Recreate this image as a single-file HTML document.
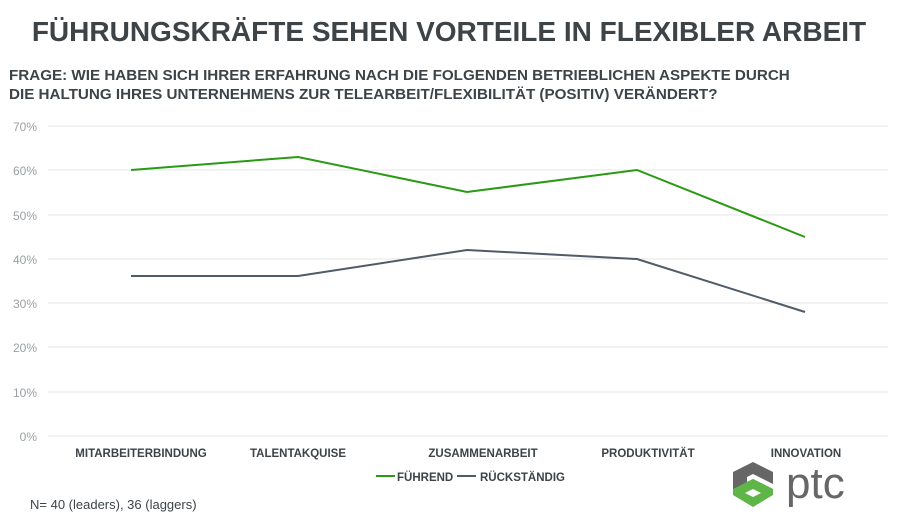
<!DOCTYPE html><html><head><meta charset="utf-8"><style>body{margin:0;background:#fff;width:900px;height:522px;overflow:hidden;font-family:"Liberation Sans",sans-serif}</style></head><body>
<svg width="900" height="522" xmlns="http://www.w3.org/2000/svg" font-family="Liberation Sans, sans-serif">
<text x="449" y="41" text-anchor="middle" font-size="28" font-weight="bold" fill="#3d4347">FÜHRUNGSKRÄFTE SEHEN VORTEILE IN FLEXIBLER ARBEIT</text>
<text x="9" y="80" font-size="15.2" font-weight="bold" fill="#3d4347">FRAGE: WIE HABEN SICH IHRER ERFAHRUNG NACH DIE FOLGENDEN BETRIEBLICHEN ASPEKTE DURCH</text>
<text x="9" y="99" font-size="15.2" font-weight="bold" fill="#3d4347">DIE HALTUNG IHRES UNTERNEHMENS ZUR TELEARBEIT/FLEXIBILITÄT (POSITIV) VERÄNDERT?</text>
<g stroke="#e6e6e6" stroke-width="1">
<line x1="48" x2="888" y1="126" y2="126"/><line x1="48" x2="888" y1="170" y2="170"/><line x1="48" x2="888" y1="215" y2="215"/><line x1="48" x2="888" y1="259" y2="259"/><line x1="48" x2="888" y1="303" y2="303"/><line x1="48" x2="888" y1="347" y2="347"/><line x1="48" x2="888" y1="392" y2="392"/><line x1="48" x2="888" y1="436" y2="436"/></g>
<g font-size="12" fill="#9a9fa3" text-anchor="end">
<text x="37" y="131">70%</text><text x="37" y="175">60%</text><text x="37" y="220">50%</text><text x="37" y="264">40%</text><text x="37" y="308">30%</text><text x="37" y="352">20%</text><text x="37" y="397">10%</text><text x="37" y="441">0%</text></g>
<polyline fill="none" stroke="#2a9a14" stroke-width="2" points="131,170 298,157 467,192 637,170 805,237"/>
<polyline fill="none" stroke="#4f5b66" stroke-width="2" points="131,276 298,276 467,250 637,259 805,312"/>
<g font-size="11.5" font-weight="bold" fill="#3d4347" text-anchor="middle">
<text x="141" y="457">MITARBEITERBINDUNG</text><text x="298" y="457">TALENTAKQUISE</text><text x="483" y="457">ZUSAMMENARBEIT</text><text x="648" y="457">PRODUKTIVITÄT</text><text x="806" y="457">INNOVATION</text></g>
<line x1="376" x2="395" y1="476" y2="476" stroke="#2a9a14" stroke-width="2"/>
<text x="397" y="481" font-size="11.5" font-weight="bold" fill="#3d4347">FÜHREND</text>
<line x1="457" x2="476" y1="476" y2="476" stroke="#4f5b66" stroke-width="2"/>
<text x="480" y="481" font-size="11.5" font-weight="bold" fill="#3d4347">RÜCKSTÄNDIG</text>
<text x="30" y="509" font-size="13" fill="#3d4347">N= 40 (leaders), 36 (laggers)</text>
<g transform="translate(733,462)">
<polygon points="20,0 40,10 40,22 20,12 14,15 14,20 20,17 40,27 20,37 0,27 0,10" fill="#666"/>
<polygon points="0,27 20,17 40,27 40,33 20,45 0,33" fill="#5fb648"/>
<polygon points="20,27 28,31 20,35 12,31" fill="#fff"/>
</g>
<text x="786" y="498" font-size="44" fill="#666">ptc</text>
</svg></body></html>
